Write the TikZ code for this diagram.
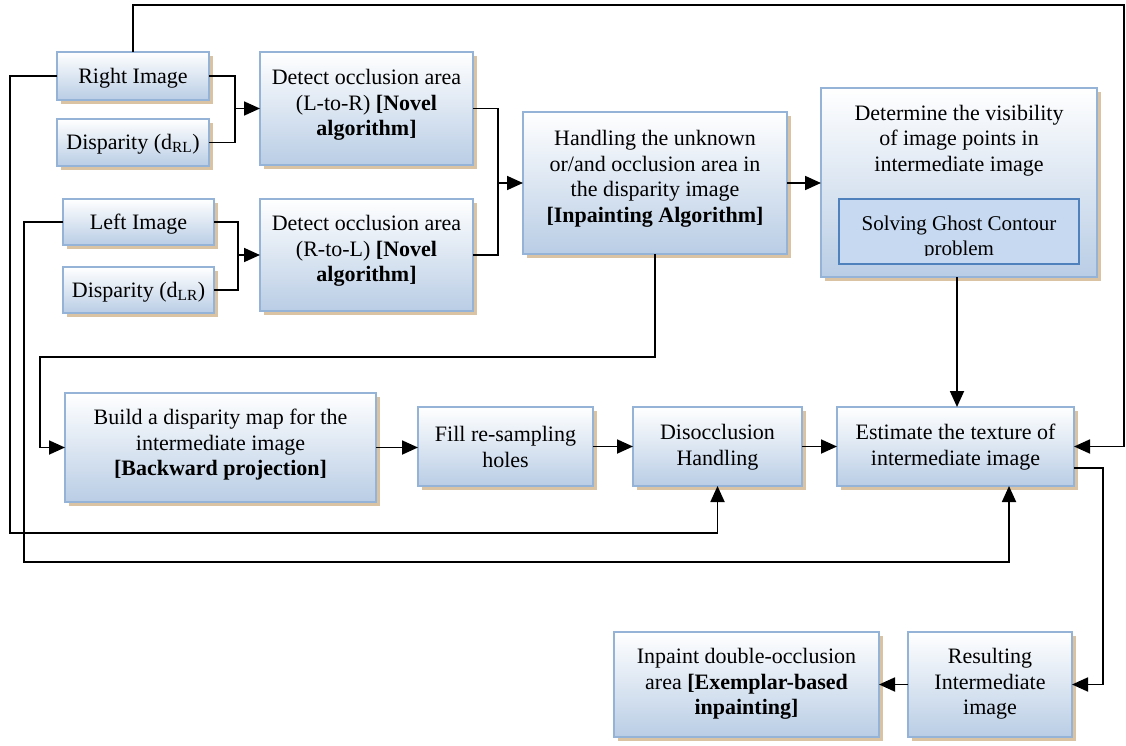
\documentclass[tikz,border=0pt]{standalone}
\usepackage{fontspec}
\setmainfont{Liberation Serif}
\usetikzlibrary{arrows.meta,shadows,calc}
\definecolor{bxborder}{RGB}{149,179,215}
\definecolor{bxfill}{RGB}{185,205,229}
\definecolor{bxshadow}{RGB}{217,195,163}
\definecolor{ghfill}{RGB}{198,217,241}
\definecolor{ghborder}{RGB}{79,129,189}
\tikzset{
  bx/.style={draw=bxborder, line width=1.8pt, top color=white, bottom color=bxfill,
    shading angle=0, inner sep=0pt, outer sep=0pt,
    general shadow={fill=bxshadow, shadow xshift=4pt, shadow yshift=-4pt}},
  ghost/.style={draw=ghborder, fill=ghfill, line width=1.8pt, inner sep=0pt},
  txt/.style={align=center, font=\fontsize{22}{25.5}\selectfont, inner sep=0pt, yshift=-2pt},
  conn/.style={line width=1.8pt, black},
  arr/.style={conn, -{Triangle[length=16pt,width=14pt]}},
}
\newcommand{\bxat}[5]{% name, x1, y1, x2, y2
  \node[bx, minimum width={#4-#2}, minimum height={#5-#3}] (#1) at ({(#2+#4)/2},{(#3+#5)/2}) {};}
\begin{document}
\begin{tikzpicture}[x=1pt,y=-1pt]
\useasboundingbox (0,0) rectangle (1126,746);
% boxes
\bxat{RI}{57}{52}{209}{100}
\bxat{dRL}{57}{119}{209}{166}
\bxat{LI}{63}{199}{214}{245}
\bxat{dLR}{63}{267}{214}{313}
\bxat{detA}{260}{52}{473}{165}
\bxat{detB}{260}{199}{473}{311}
\bxat{hand}{523}{112}{787}{254}
\bxat{det}{821}{88}{1097}{277}
\bxat{build}{65}{393}{376}{502}
\bxat{fill}{418}{407}{593}{486}
\bxat{dis}{633}{407}{802}{486}
\bxat{est}{837}{407}{1074}{486}
\bxat{inp}{614}{632}{879}{737}
\bxat{res}{908}{632}{1072}{737}
\node[ghost, minimum width=240pt, minimum height=65pt] (gh) at (959,231.5) {};
% texts
\node[txt] (tRI) at (133,76) {Right Image};
\node[txt] (tdRL) at (133,142.5) {Disparity (d\textsubscript{RL})};
\node[txt] (tLI) at (138.5,222) {Left Image};
\node[txt] (tdLR) at (138.5,290) {Disparity (d\textsubscript{LR})};
\node[txt] (tdetA) at (366.5,103) {Detect occlusion area\\(L-to-R) \textbf{[Novel}\\\textbf{algorithm]}};
\node[txt] (tdetB) at (366.5,249) {Detect occlusion area\\(R-to-L) \textbf{[Novel}\\\textbf{algorithm]}};
\node[txt] (thand) at (655,177) {Handling the unknown\\or/and occlusion area in\\the disparity image\\\textbf{[Inpainting Algorithm]}};
\node[txt, anchor=north] (tdet) at (959,103) {Determine the visibility\\of image points in\\intermediate image};
\begin{scope}
  \clip (840,200) rectangle (1078,255.5);
  \node[txt, font=\fontsize{21}{24.5}\selectfont, anchor=north] (tgh) at (959,214) {Solving Ghost Contour\\problem};
\end{scope}
\node[txt] (tbuild) at (220.5,443) {Build a disparity map for the\\intermediate image\\\textbf{[Backward projection]}};
\node[txt] (tfill) at (505.5,445) {Fill re-sampling\\holes};
\node[txt] (tdis) at (717.5,445) {Disocclusion\\Handling};
\node[txt] (test) at (955.5,445) {Estimate the texture of\\intermediate image};
\node[txt] (tinp) at (746.5,682) {Inpaint double-occlusion\\area \textbf{[Exemplar-based}\\\textbf{inpainting]}};
\node[txt] (tres) at (990,682) {Resulting\\Intermediate\\image};
% coordinates
\coordinate (j1) at (235,108.5);
\coordinate (j2) at (238,255);
\coordinate (j3) at (498,183);
\coordinate (c1) at (1124,5);
\coordinate (c2) at (10,533);
\coordinate (c3) at (24,562);
\coordinate (c4) at (1009,486);
\coordinate (c5) at (40,357);
\coordinate (c6) at (1103,684.5);
% connectors
\draw[conn] (RI.east) -| (j1);
\draw[conn] (dRL.east) -| (j1);
\draw[arr] (j1) -- (detA.west);
\draw[conn] (LI.east) -| (j2);
\draw[conn] (dLR.east) -| (j2);
\draw[arr] (j2) -- (detB.west);
\draw[conn] (detA.east) -| (j3);
\draw[conn] (detB.east) -| (j3);
\draw[arr] (j3) -- (hand.west);
\draw[arr] (hand.east) -- (det.west |- hand.east);
\draw[arr] (RI.north) |- (c1) |- (est.east);
\draw[arr] (RI.west) -| (c2) -| (dis.south);
\draw[arr] (LI.west) -| (c3) -| (c4);
\draw[arr] (hand.south) |- (c5) |- (build.west);
\draw[arr] (build.east) -- (build.east -| fill.west);
\draw[arr] (fill.east) -- (dis.west);
\draw[arr] (dis.east) -- (est.west);
\draw[arr] (det.south -| 957,0) -- (957,407);
\draw[arr] ([yshift=-21.5pt]est.east) -| (c6) -- (res.east);
\draw[arr] (res.west) -- (inp.east);
\end{tikzpicture}
\end{document}
